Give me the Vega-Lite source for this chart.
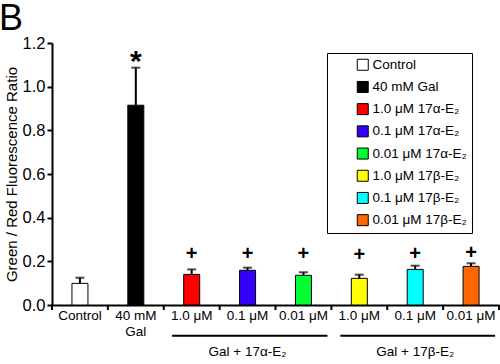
{
  "$schema": "https://vega.github.io/schema/vega-lite/v6.json",
  "autosize": "none",
  "width": 447,
  "height": 262,
  "padding": {"left": 52, "top": 43, "right": 1, "bottom": 59},
  "background": "white",
  "config": {"view": {"stroke": null}, "font": "Liberation Sans"},
  "title": {"text": "B", "anchor": "start", "frame": "group", "fontSize": 36, "font": "Liberation Sans", "fontWeight": "normal", "dx": -53, "offset": -3, "color": "black"},
  "datasets": {
    "bars": [
      {"cat": "c1", "legend": "Control", "value": 0.099, "upper": 0.125, "sig": "", "sigY": 0},
      {"cat": "c2", "legend": "40 mM Gal", "value": 0.915, "upper": 1.087, "sig": "*", "sigY": 1.072},
      {"cat": "c3", "legend": "1.0 μM 17α-E₂", "value": 0.14, "upper": 0.163, "sig": "+", "sigY": 0.206},
      {"cat": "c4", "legend": "0.1 μM 17α-E₂", "value": 0.159, "upper": 0.171, "sig": "+", "sigY": 0.206},
      {"cat": "c5", "legend": "0.01 μM 17α-E₂", "value": 0.136, "upper": 0.15, "sig": "+", "sigY": 0.206},
      {"cat": "c6", "legend": "1.0 μM 17β-E₂", "value": 0.122, "upper": 0.139, "sig": "+", "sigY": 0.203},
      {"cat": "c7", "legend": "0.1 μM 17β-E₂", "value": 0.163, "upper": 0.18, "sig": "+", "sigY": 0.206},
      {"cat": "c8", "legend": "0.01 μM 17β-E₂", "value": 0.177, "upper": 0.191, "sig": "+", "sigY": 0.21}
    ],
    "groups": [
      {"start": 2.15, "end": 4.93, "mid": 3.5, "lineY": -0.141, "textY": -0.215, "label": "Gal + 17α-E₂"},
      {"start": 5.16, "end": 7.93, "mid": 6.5, "lineY": -0.141, "textY": -0.215, "label": "Gal + 17β-E₂"}
    ],
    "ticks": [
      {"pos": 0, "top": 0, "bottom": -0.023},
      {"pos": 1, "top": 0, "bottom": -0.023},
      {"pos": 2, "top": 0, "bottom": -0.023},
      {"pos": 3, "top": 0, "bottom": -0.023},
      {"pos": 4, "top": 0, "bottom": -0.023},
      {"pos": 5, "top": 0, "bottom": -0.023},
      {"pos": 6, "top": 0, "bottom": -0.023},
      {"pos": 7, "top": 0, "bottom": -0.023},
      {"pos": 8, "top": 0, "bottom": -0.023}
    ]
  },
  "layer": [
    {
      "data": {"name": "bars"},
      "layer": [
        {
          "mark": {"type": "rule", "strokeWidth": 2, "color": "black"},
          "encoding": {
            "x": {"field": "cat", "type": "nominal"},
            "y": {"field": "value", "type": "quantitative"},
            "y2": {"field": "upper"}
          }
        },
        {
          "mark": {"type": "tick", "thickness": 2, "size": 9, "color": "black"},
          "encoding": {
            "x": {"field": "cat", "type": "nominal"},
            "y": {"field": "upper", "type": "quantitative"}
          }
        },
        {
          "mark": {"type": "bar", "size": 16, "stroke": "black", "strokeWidth": 1},
          "encoding": {
            "x": {
              "field": "cat", "type": "nominal",
              "scale": {"paddingInner": 0, "paddingOuter": 0},
              "axis": {
                "title": null,
                "labelAngle": 0,
                "labelAlign": "center",
                "ticks": false,
                "labelExpr": "{'c1':'Control','c2':['40 mM','Gal'],'c3':'1.0 μM','c4':'0.1 μM','c5':'0.01 μM','c6':'1.0 μM','c7':'0.1 μM','c8':'0.01 μM'}[datum.value]",
                "labelFontSize": 13.5,
                "labelFont": "Liberation Sans",
                "labelColor": "black",
                "labelPadding": 10,
                "labelLineHeight": 16,
                "labelOverlap": false,
                "domainColor": "black",
                "domainWidth": 2
              }
            },
            "y": {
              "field": "value", "type": "quantitative",
              "scale": {"domain": [0, 1.2], "nice": false},
              "axis": {
                "title": "Green / Red Fluorescence Ratio",
                "titleFontSize": 15,
                "titleFont": "Liberation Sans",
                "titleFontWeight": "normal",
                "titleColor": "black",
                "titlePadding": 3,
                "values": [0, 0.2, 0.4, 0.6, 0.8, 1.0, 1.2],
                "format": ".1f",
                "grid": false,
                "labelFontSize": 16.5,
                "labelFont": "Liberation Sans",
                "labelColor": "black",
                "labelPadding": 2,
                "domainColor": "black",
                "domainWidth": 2,
                "tickColor": "black",
                "tickWidth": 2,
                "tickSize": 5
              }
            },
            "color": {
              "field": "legend", "type": "nominal",
              "sort": null,
              "scale": {
                "domain": ["Control", "40 mM Gal", "1.0 μM 17α-E₂", "0.1 μM 17α-E₂", "0.01 μM 17α-E₂", "1.0 μM 17β-E₂", "0.1 μM 17β-E₂", "0.01 μM 17β-E₂"],
                "range": ["#ffffff", "#000000", "#ff0000", "#3300ff", "#00ff33", "#ffff00", "#00ffff", "#ff6600"]
              },
              "legend": {
                "title": null,
                "orient": "none",
                "legendX": 275,
                "legendY": 10,
                "strokeColor": "black",
                "padding": 5,
                "symbolType": "square",
                "symbolSize": 121,
                "symbolStrokeColor": "black",
                "symbolStrokeWidth": 1,
                "symbolOpacity": 1,
                "symbolOffset": 24,
                "labelFontSize": 13.5,
                "labelFont": "Liberation Sans",
                "labelColor": "black",
                "labelOffset": 3,
                "rowPadding": 6.2,
                "labelLimit": 200
              }
            }
          }
        },
        {
          "mark": {"type": "text", "fontSize": 20, "fontWeight": "bold", "baseline": "alphabetic", "color": "black", "font": "Liberation Sans"},
          "encoding": {
            "x": {"field": "cat", "type": "nominal"},
            "y": {"field": "sigY", "type": "quantitative"},
            "text": {"field": "sig"},
            "size": {"condition": {"test": "datum.sig === '*'", "value": 30}, "value": 20}
          }
        }
      ]
    },
    {
      "data": {"name": "ticks"},
      "mark": {"type": "rule", "strokeWidth": 2, "color": "black", "clip": false},
      "encoding": {
        "x": {"field": "pos", "type": "quantitative", "scale": {"domain": [0, 8], "nice": false}, "axis": null},
        "y": {"field": "top", "type": "quantitative"},
        "y2": {"field": "bottom"}
      }
    },
    {
      "data": {"name": "groups"},
      "layer": [
        {
          "mark": {"type": "rule", "strokeWidth": 2, "color": "black", "clip": false},
          "encoding": {
            "x": {"field": "start", "type": "quantitative", "scale": {"domain": [0, 8], "nice": false}, "axis": null},
            "x2": {"field": "end"},
            "y": {"field": "lineY", "type": "quantitative"}
          }
        },
        {
          "mark": {"type": "text", "fontSize": 13.5, "baseline": "middle", "color": "black", "font": "Liberation Sans"},
          "encoding": {
            "x": {"field": "mid", "type": "quantitative", "scale": {"domain": [0, 8], "nice": false}, "axis": null},
            "y": {"field": "textY", "type": "quantitative"},
            "text": {"field": "label"}
          }
        }
      ]
    }
  ],
  "resolve": {"scale": {"x": "independent"}}
}
